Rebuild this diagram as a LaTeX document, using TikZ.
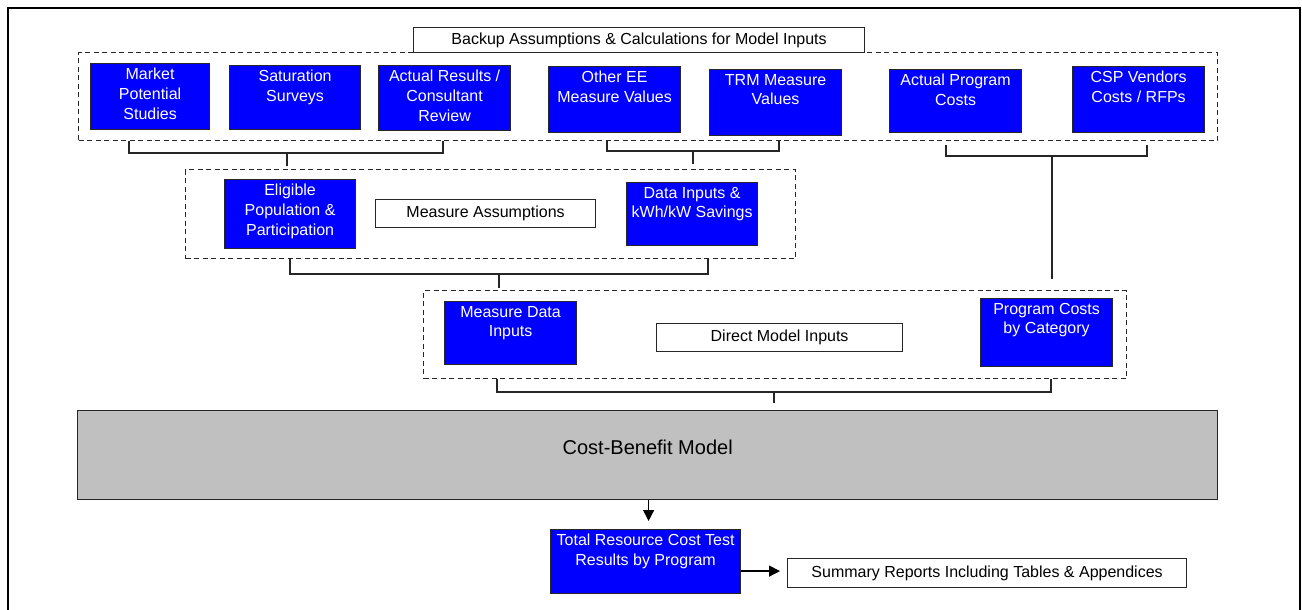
\documentclass[tikz,border=0pt]{standalone}
\usepackage{fontspec}
\setmainfont{Liberation Sans}
\usetikzlibrary{arrows.meta}
\definecolor{boxblue}{HTML}{0000FF}
\definecolor{cbgray}{HTML}{C0C0C0}
\tikzset{
  bluebox/.style={draw=black!85, line width=1.2pt, fill=boxblue, text=white, inner sep=0pt, anchor=north west},
  dashbox/.style={draw=black!85, line width=1.2pt, dash pattern=on 5pt off 3.5pt, inner sep=0pt, anchor=north west},
  labelbox/.style={draw=black!85, line width=1.2pt, fill=white, inner sep=0pt, anchor=north west, text height=11.5pt, text depth=3.5pt},
  conn/.style={draw=black!85, line width=1.4pt},
  arr/.style={draw=black, line width=1.4pt, -{Triangle[length=11pt,width=11pt]}},
}
\newcommand\mybox[6]{\node[bluebox] (#1) at (#2,#3) {\parbox[c][\dimexpr#5pt-#3pt\relax][t]{\dimexpr#4pt-#2pt\relax}{\centering\vskip4.5pt #6}};}
\newcommand\mylabel[6]{\node[labelbox, minimum width=\dimexpr#4pt-#2pt\relax, minimum height=\dimexpr#5pt-#3pt\relax] (#1) at (#2,#3) {#6};}
\newcommand\mydash[5]{\node[dashbox, minimum width=\dimexpr#4pt-#2pt\relax, minimum height=\dimexpr#5pt-#3pt\relax] (#1) at (#2,#3) {};}
\begin{document}
\begin{tikzpicture}[x=1pt, y=-1pt, font=\fontsize{16}{19.7}\selectfont]
\useasboundingbox (0,0) rectangle (1302,610);
\clip (0,0) rectangle (1302,610);
\fill[white] (0,0) rectangle (1302,610);
% outer frame
\draw[line width=2pt] (8,620) -- (8,8) -- (1300,8) -- (1300,620);

% dashed groups
\mydash{d1}{78}{52}{1217}{140}
\mydash{d2}{185}{169}{795}{258}
\mydash{d3}{423}{290}{1126}{378}

% labels
\mylabel{bk}{413}{27}{864}{52}{Backup Assumptions \& Calculations for Model Inputs}
\mylabel{ma}{375}{199}{595}{227}{Measure Assumptions}
\mylabel{dmi}{656}{323}{902}{351}{Direct Model Inputs}
\mylabel{sum}{787}{558}{1186}{587}{Summary Reports Including Tables \& Appendices}

% blue boxes
\mybox{mps}{90}{63}{209}{129}{Market\\Potential\\Studies}
\mybox{sat}{229}{65}{360}{129}{Saturation\\Surveys}
\mybox{arc}{378}{65}{510}{130}{Actual Results /\\Consultant\\Review}
\mybox{oee}{548}{66}{680}{132}{Other EE\\Measure Values}
\mybox{trm}{709}{69}{841}{135}{TRM Measure\\Values}
\mybox{apc}{889}{69}{1021}{132}{Actual Program\\Costs}
\mybox{csp}{1072}{66}{1204}{132}{CSP Vendors\\Costs / RFPs}
\mybox{epp}{224}{179}{355}{248}{Eligible\\Population \&\\Participation}
\mybox{dik}{626}{182}{757}{245}{Data Inputs \&\\kWh/kW Savings}
\mybox{mdi}{444}{301}{576}{364}{Measure Data\\Inputs}
\mybox{pcc}{980}{298}{1112}{366}{Program Costs\\by Category}
\mybox{trc}{550}{529}{740}{593}{Total Resource Cost Test\\Results by Program}

% cost-benefit model
\node[draw=black!85, line width=1.4pt, fill=cbgray, inner sep=0pt, anchor=north west,
      minimum width=1140pt, minimum height=89pt, font=\fontsize{20}{24}\selectfont,
      text height=14pt, text depth=15.6pt] (cbm) at (77,410) {Cost-Benefit Model};

% brackets
\coordinate (b1l) at (129,153); \coordinate (b1r) at (443,153); \coordinate (b1m) at (287,153);
\draw[conn] (b1l |- d1.south) -- (b1l) -- (b1r) -- (b1r |- d1.south);
\draw[conn] (b1m) -- ([yshift=3pt]b1m |- d2.north);

\coordinate (b2l) at (607,151); \coordinate (b2r) at (779,151); \coordinate (b2m) at (693,151);
\draw[conn] (b2l |- d1.south) -- (b2l) -- (b2r) -- (b2r |- d1.south);
\draw[conn] (b2m) -- ([yshift=5pt]b2m |- d2.north);

\coordinate (b3l) at (946,156); \coordinate (b3r) at (1147,156); \coordinate (b3m) at (1052,156);
\draw[conn] ([yshift=-4pt]b3l |- d1.south) -- (b3l) -- (b3r) -- ([yshift=-4pt]b3r |- d1.south);
\draw[conn] (b3m) -- ([yshift=11pt]b3m |- d3.north);

\coordinate (b4l) at (290,274); \coordinate (b4r) at (708,274); \coordinate (b4m) at (499,274);
\draw[conn] (b4l |- d2.south) -- (b4l) -- (b4r) -- (b4r |- d2.south);
\draw[conn] (b4m) -- ([yshift=2pt]b4m |- d3.north);

\coordinate (b5l) at (497,392); \coordinate (b5r) at (1051,392); \coordinate (b5m) at (774,392);
\draw[conn] (b5l |- d3.south) -- (b5l) -- (b5r) -- (b5r |- d3.south);
\draw[conn] (b5m) -- ([yshift=7pt]b5m |- cbm.north);

% arrows
\draw[arr, shorten >=8pt] ([xshift=3pt]trc.north |- cbm.south) -- ([xshift=3pt]trc.north);
\draw[arr, shorten >=7pt] ([yshift=2pt]sum.west -| trc.east) -- ([yshift=2pt]sum.west);
\end{tikzpicture}
\end{document}
